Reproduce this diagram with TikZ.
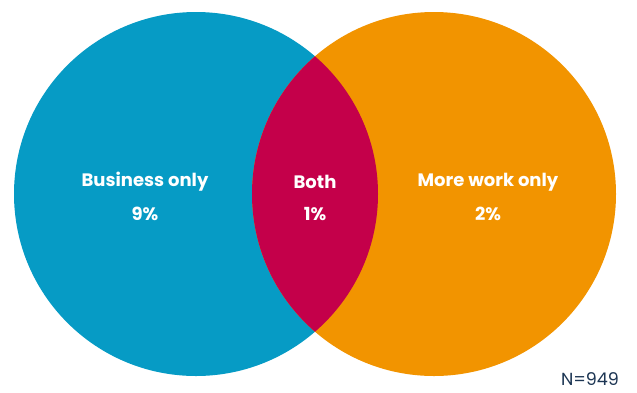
\documentclass[tikz,border=0pt]{standalone}
\usepackage{fontspec}
\setmainfont{Poppins}
\definecolor{cblue}{HTML}{069BC5}
\definecolor{corange}{HTML}{F29400}
\definecolor{cmag}{HTML}{C4004A}
\definecolor{cnavy}{HTML}{1C3553}
\begin{document}
\begin{tikzpicture}[x=1pt,y=-1pt,
  lbl/.style={text=white,font=\fontsize{18}{24}\selectfont\bfseries,align=center,inner sep=0pt}]
\useasboundingbox (0,0) rectangle (637,392);
\node[circle,fill=cblue,minimum size=364pt,inner sep=0pt] (L) at (196,194) {};
\node[circle,fill=corange,minimum size=364pt,inner sep=0pt] (R) at (434,194) {};
\begin{scope}
\clip (196,194) circle (182pt);
\fill[cmag] (434,194) circle (182pt);
\end{scope}
\node[lbl] (bus) at (145,182) {Business only};
\node[lbl] (busv) at (145,214) {9\%};
\node[lbl] (both) at (315,182) {Both};
\node[lbl] (bothv) at (315,214) {1\%};
\node[lbl] (more) at (488,182) {More work only};
\node[lbl] (morev) at (488,214) {2\%};
\node[text=cnavy,font=\fontsize{17.5}{20}\selectfont,inner sep=0pt,anchor=base] (n) at (590,385) {N=949};
\end{tikzpicture}
\end{document}
